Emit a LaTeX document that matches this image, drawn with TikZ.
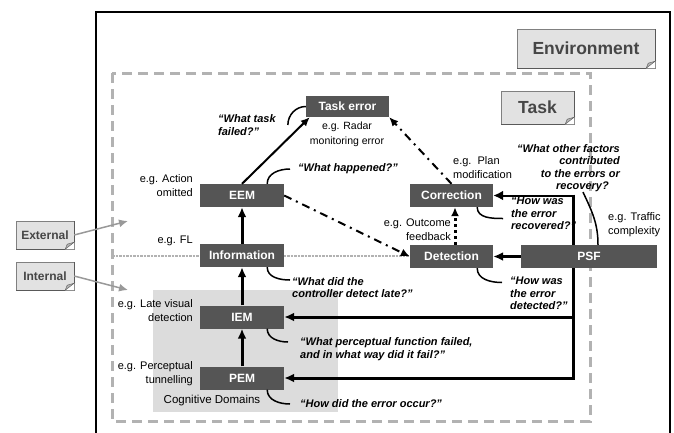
\documentclass[tikz,border=0pt]{standalone}
\usepackage{fontspec}
\setmainfont{Liberation Sans}
\usepackage{xcolor}
\usetikzlibrary{arrows.meta}
\definecolor{boxgray}{RGB}{85,85,85}
\definecolor{framegray}{RGB}{178,178,178}
\definecolor{domaingray}{RGB}{220,220,220}
\definecolor{cardgray}{RGB}{226,226,226}
\definecolor{inkgray}{RGB}{70,70,70}

\begin{document}
\begin{tikzpicture}[x=1pt,y=-1pt,
  errbox/.style={fill=boxgray,text=white,font=\fontsize{12}{14}\selectfont\bfseries,minimum width=84pt,minimum height=23pt,inner sep=0pt},
  card/.style={fill=cardgray,draw=gray,text=inkgray,inner sep=0pt},
  example/.style={font=\fontsize{11}{14}\selectfont,inner sep=0pt},
  askq/.style={font=\fontsize{11}{12.5}\selectfont\bfseries\itshape,inner sep=0pt},
  qline/.style={line width=1.5pt},
  flow/.style={line width=3pt,-{Latex[length=10pt,width=9pt]}},
  dashdot/.style={line width=2pt,dash pattern=on 8pt off 5pt on 2pt off 5pt,-{Latex[length=9pt,width=8pt]}},
  pointer/.style={line width=1.5pt,gray!80,-{Latex[length=9pt,width=8pt]}}]
  \useasboundingbox (0,0) rectangle (674,432);

  % frames and domains
  \draw[line width=2pt] (96,440) -- (96,12) -- (670,12) -- (670,440);
  \draw[framegray,line width=3pt,dash pattern=on 10pt off 6pt] (112,73) rectangle (590,421);
  \fill[domaingray] (153,290) rectangle (338,412);
  \draw[gray!60,line width=2.5pt,dash pattern=on 2.5pt off 1pt] (112,256) -- (410,256);

  % labels
  \node[card,minimum width=138pt,minimum height=39pt,font=\fontsize{17.5}{20}\selectfont\bfseries] (env) at (586,48.5) {Environment};
  \node[card,minimum width=73pt,minimum height=33pt,font=\fontsize{17.5}{20}\selectfont\bfseries] (task) at (537.5,107.5) {Task};
  \node[card,minimum width=58pt,minimum height=28pt,font=\fontsize{12}{14}\selectfont\bfseries] (ext) at (45,235) {External};
  \node[card,minimum width=58pt,minimum height=28pt,font=\fontsize{12}{14}\selectfont\bfseries] (int) at (45,276) {Internal};
  \foreach \c in {env,task,ext,int} {
    \fill[white] ([xshift=-9pt]\c.south east) -- (\c.south east) -- ([yshift=7pt]\c.south east) -- cycle;
    \draw[gray!70!black] ([xshift=-9pt]\c.south east) -- (\c.south west);
    \draw[gray!70!black] ([yshift=7pt]\c.south east) -- (\c.north east);
    \filldraw[fill=gray!60,draw=gray!70!black] ([xshift=-9pt]\c.south east) -- ([yshift=7pt]\c.south east) -- ([xshift=-7pt,yshift=5pt]\c.south east) -- cycle;
  }
  \coordinate (extend) at (128,221);
  \coordinate (intend) at (128,290);
  \draw[pointer] (ext.east) -- (extend);
  \draw[pointer] (int.east) -- (intend);

  % error chain
  \node[errbox,minimum width=83pt,minimum height=21pt] (taskerr) at (347.5,106.5) {Task error};
  \node[errbox] (eem) at (242,195.5) {EEM};
  \node[errbox] (info) at (242,255.5) {Information};
  \node[errbox] (iem) at (242,317) {IEM};
  \node[errbox] (pem) at (242,378) {PEM};
  \node[errbox,minimum width=83pt] (corr) at (451.5,195.5) {Correction};
  \node[errbox,minimum width=83pt] (detect) at (451.5,256.5) {Detection};

  % PSF bus
  \coordinate (bus) at (573,0);
  \draw[flow] ([yshift=1pt]corr.east -| bus) |- (pem.east);
  \draw[line width=2pt,-{Latex[length=10pt,width=10pt]}] (corr.east -| bus) -- (corr.east);
  \draw[flow] (iem.east -| bus) -- (iem.east);
  \node[errbox,minimum width=136pt] (psf) at (589,256.5) {PSF};
  \draw[flow] (psf) -- (detect);

  \draw[flow] (info) -- (eem);
  \draw[flow] (iem) -- (info);
  \draw[flow] (pem) -- (iem);
  \draw[line width=2pt,-{Latex[length=9pt,width=8pt]}] (eem.north) -- ([xshift=4pt]taskerr.south west);
  \draw[dashdot] (eem.east) -- (detect.west);
  \draw[dashdot] (corr.north) -- (taskerr.south east);
  \draw[line width=3pt,dash pattern=on 3pt off 3pt,-{Latex[length=9pt,width=8pt]}] ([xshift=3.5pt]detect.north) -- ([xshift=3.5pt]corr.south);

  % examples and questions
  \node[askq,anchor=west,align=left] (qtask) at (218,125) {“What task\\failed?”};
  \node[example,font=\fontsize{10.5}{14.5}\selectfont,align=center] (egtask) at (347,134.5) {e.g. Radar\\monitoring error};
  \node[askq,anchor=west] (qeem) at (298,169) {“What happened?”};
  \node[example,anchor=east,align=right] (egeem) at (193,186) {e.g. Action\\omitted};
  \node[example,anchor=east] (eginfo) at (193,241) {e.g. FL};
  \node[example,anchor=east,align=right] (egiem) at (193,310.5) {e.g. Late visual\\detection};
  \node[example,anchor=east,align=right] (egpem) at (193,374) {e.g. Perceptual\\tunnelling};
  \node[example,font=\fontsize{11.5}{14}\selectfont] (cogdom) at (212,401) {Cognitive Domains};
  \node[askq,anchor=west,align=left] (qinfo) at (292,287.5) {“What did the\\controller detect late?”};
  \node[askq,anchor=west,align=left] (qiem) at (300,349) {“What perceptual function failed,\\and in what way did it fail?”};
  \node[askq,anchor=west] (qpem) at (300,404) {“How did the error occur?”};
  \node[example,anchor=west,align=left] (egcorr) at (453,168) {e.g.\ \ Plan\\modification};
  \node[askq,anchor=west,align=left] (qcorr) at (511,213.5) {“How was\\the error\\recovered?”};
  \node[example,anchor=east,align=right] (egdetect) at (451,229.5) {e.g. Outcome\\feedback};
  \node[askq,anchor=west,align=left] (qdetect) at (510,293.5) {“How was\\the error\\detected?”};
  \node[askq,anchor=east,align=right] (qpsf) at (620,168) {“What other factors\\contributed\\to the errors or\\recovery?\hspace*{11pt}};
  \node[example,anchor=west,align=left] (egpsf) at (608,224.5) {e.g. Traffic\\complexity};

  \draw[qline] ([xshift=12pt]qtask.east) to[out=90,in=180] (taskerr.west);
  \draw[qline] ([xshift=-17pt]eem.north east) to[out=90,in=180] ([xshift=-8pt]qeem.west);
  \draw[qline] ([xshift=-17pt]info.south east) to[out=-90,in=180] ([xshift=-2pt,yshift=7.5pt]qinfo.west);
  \draw[qline] ([xshift=-17pt]iem.south east) to[out=-90,in=180] ([xshift=-12pt,yshift=7pt]qiem.west);
  \draw[qline] ([xshift=-17pt]pem.south east) to[out=-90,in=180] ([xshift=-10pt]qpem.west);
  \draw[qline] ([xshift=-16pt]corr.south east) to[out=-90,in=180] ([xshift=-8pt,yshift=-5pt]qcorr.west);
  \draw[qline] ([xshift=-16pt]detect.south east) to[out=-90,in=180] ([xshift=-8pt,yshift=11pt]qdetect.west);
  \draw[qline] ([xshift=-37pt]qpsf.south east) to[out=-65,in=90] ([xshift=9pt]psf.north);
\end{tikzpicture}
\end{document}
